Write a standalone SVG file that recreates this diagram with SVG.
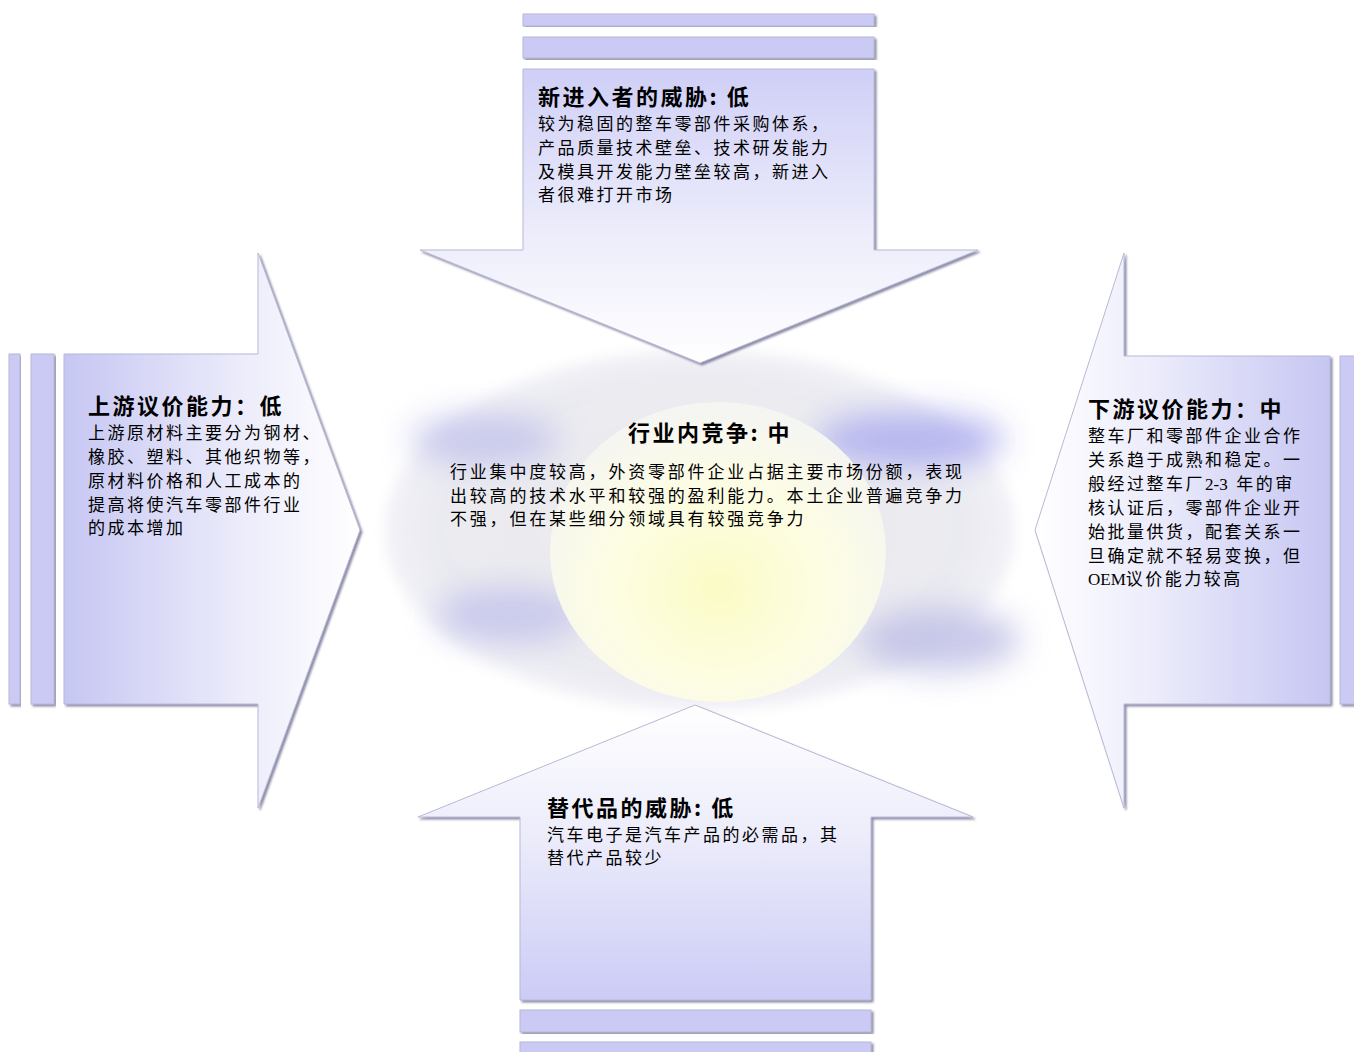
<svg xmlns="http://www.w3.org/2000/svg" width="1354" height="1052" viewBox="0 0 1354 1052">
<defs>
<style>
.t{font-family:"Noto Sans CJK SC","Noto Sans",sans-serif;font-size:22px;font-weight:bold;fill:#000;letter-spacing:2.5px}
.b{font-family:"Noto Sans CJK SC","Noto Sans",sans-serif;font-size:17px;fill:#000;letter-spacing:2.5px}
.lat{font-family:"Liberation Serif",serif;letter-spacing:0}
.arrow{stroke:#b8b8d8;stroke-width:1;filter:url(#sh)}
.stripe{fill:#cacaf4;stroke:#b8b8d8;stroke-width:1;filter:url(#sh)}
</style>
<filter id="sh" x="-5%" y="-5%" width="110%" height="110%">
<feDropShadow dx="2" dy="2" stdDeviation="0.8" flood-color="#5a5a80" flood-opacity="0.7"/>
</filter>
<filter id="blur" filterUnits="userSpaceOnUse" x="300" y="280" width="800" height="500"><feGaussianBlur stdDeviation="7"/></filter>
<filter id="blur2" filterUnits="userSpaceOnUse" x="300" y="280" width="800" height="500"><feGaussianBlur stdDeviation="16"/></filter>
<linearGradient id="gTop" x1="0" y1="69" x2="0" y2="363" gradientUnits="userSpaceOnUse">
<stop offset="0" stop-color="#cfcff7"/><stop offset="0.55" stop-color="#ececfb"/><stop offset="1" stop-color="#ffffff"/></linearGradient>
<linearGradient id="gBot" x1="0" y1="1000" x2="0" y2="705" gradientUnits="userSpaceOnUse">
<stop offset="0" stop-color="#cbcbf6"/><stop offset="0.55" stop-color="#ececfb"/><stop offset="1" stop-color="#ffffff"/></linearGradient>
<linearGradient id="gLeft" x1="64" y1="0" x2="360" y2="0" gradientUnits="userSpaceOnUse">
<stop offset="0" stop-color="#c6c6f3"/><stop offset="0.6" stop-color="#ececfb"/><stop offset="1" stop-color="#ffffff"/></linearGradient>
<linearGradient id="gRight" x1="1330" y1="0" x2="1035" y2="0" gradientUnits="userSpaceOnUse">
<stop offset="0" stop-color="#c6c6f3"/><stop offset="0.6" stop-color="#ececfb"/><stop offset="1" stop-color="#ffffff"/></linearGradient>
<radialGradient id="gOuter" cx="0.5" cy="0.5" r="0.5">
<stop offset="0" stop-color="#ededec"/><stop offset="0.85" stop-color="#eaeaf1"/><stop offset="1" stop-color="#f2f2f7"/></radialGradient>
<radialGradient id="gInner" cx="0.5" cy="0.62" r="0.6">
<stop offset="0" stop-color="#fbfbc6"/><stop offset="0.55" stop-color="#fdfde4"/><stop offset="1" stop-color="#f5f5f2"/></radialGradient>
</defs>
<rect width="1354" height="1052" fill="#ffffff"/>

<g id="center">
<ellipse cx="700" cy="530" rx="315" ry="180" fill="url(#gOuter)" filter="url(#blur)"/>
<ellipse cx="485" cy="440" rx="75" ry="26" fill="#c4c4ec" opacity="0.85" filter="url(#blur2)"/>
<ellipse cx="910" cy="440" rx="95" ry="28" fill="#b4b4f0" opacity="0.95" filter="url(#blur2)"/>
<ellipse cx="510" cy="615" rx="75" ry="28" fill="#c4c4ec" opacity="0.85" filter="url(#blur2)"/>
<ellipse cx="940" cy="640" rx="80" ry="32" fill="#c0c0e6" opacity="0.85" filter="url(#blur2)"/>
<ellipse cx="718" cy="552" rx="168" ry="150" fill="url(#gInner)"/>
<text class="t" x="710" y="441" text-anchor="middle">行业内竞争: 中</text>
<text class="b" x="450" y="478" style="letter-spacing:2.8px">行业集中度较高，外资零部件企业占据主要市场份额，表现</text>
<text class="b" x="450" y="502" style="letter-spacing:2.8px">出较高的技术水平和较强的盈利能力。本土企业普遍竞争力</text>
<text class="b" x="450" y="525" style="letter-spacing:2.8px">不强，但在某些细分领域具有较强竞争力</text>
</g>

<g id="new-entrants">
<rect class="stripe" x="523" y="14" width="351" height="12"/>
<rect class="stripe" x="523" y="37" width="351" height="21"/>
<polygon class="arrow" fill="url(#gTop)" points="523,69 874,69 874,250 978,250 700,363 420,250 523,250"/>
<text class="t" x="538" y="105">新进入者的威胁: 低</text>
<text class="b" x="538" y="130">较为稳固的整车零部件采购体系，</text>
<text class="b" x="538" y="154">产品质量技术壁垒、技术研发能力</text>
<text class="b" x="538" y="178">及模具开发能力壁垒较高，新进入</text>
<text class="b" x="538" y="201">者很难打开市场</text>
</g>

<g id="upstream">
<rect class="stripe" x="9" y="354" width="11" height="350"/>
<rect class="stripe" x="31" y="354" width="23" height="350"/>
<polygon class="arrow" fill="url(#gLeft)" points="64,354 258,354 258,253 360,530 258,808 258,704 64,704"/>
<text class="t" x="88" y="414">上游议价能力：低</text>
<text class="b" x="88" y="439">上游原材料主要分为钢材、</text>
<text class="b" x="88" y="463">橡胶、塑料、其他织物等，</text>
<text class="b" x="88" y="487">原材料价格和人工成本的</text>
<text class="b" x="88" y="511">提高将使汽车零部件行业</text>
<text class="b" x="88" y="534">的成本增加</text>
</g>

<g id="downstream">
<rect class="stripe" x="1340" y="356" width="20" height="348"/>
<polygon class="arrow" fill="url(#gRight)" points="1330,356 1124,356 1124,253 1035,530 1124,808 1124,704 1330,704"/>
<text class="t" x="1088" y="417">下游议价能力：中</text>
<text class="b" x="1088" y="442">整车厂和零部件企业合作</text>
<text class="b" x="1088" y="466">关系趋于成熟和稳定。一</text>
<text class="b" x="1088" y="490">般经过整车厂<tspan class="lat">2-3&#160;&#160;</tspan>年的审</text>
<text class="b" x="1088" y="514">核认证后，零部件企业开</text>
<text class="b" x="1088" y="538">始批量供货，配套关系一</text>
<text class="b" x="1088" y="562">旦确定就不轻易变换，但</text>
<text class="b" x="1088" y="585"><tspan class="lat">OEM</tspan>议价能力较高</text>
</g>

<g id="substitutes">
<rect class="stripe" x="520" y="1010" width="351" height="22"/>
<rect class="stripe" x="520" y="1042" width="351" height="20"/>
<polygon class="arrow" fill="url(#gBot)" points="520,1000 871,1000 871,817 973,817 695,705 418,817 520,817"/>
<text class="t" x="547" y="816">替代品的威胁: 低</text>
<text class="b" x="547" y="841">汽车电子是汽车产品的必需品，其</text>
<text class="b" x="547" y="864">替代产品较少</text>
</g>

<g id="connectors"/>
</svg>
